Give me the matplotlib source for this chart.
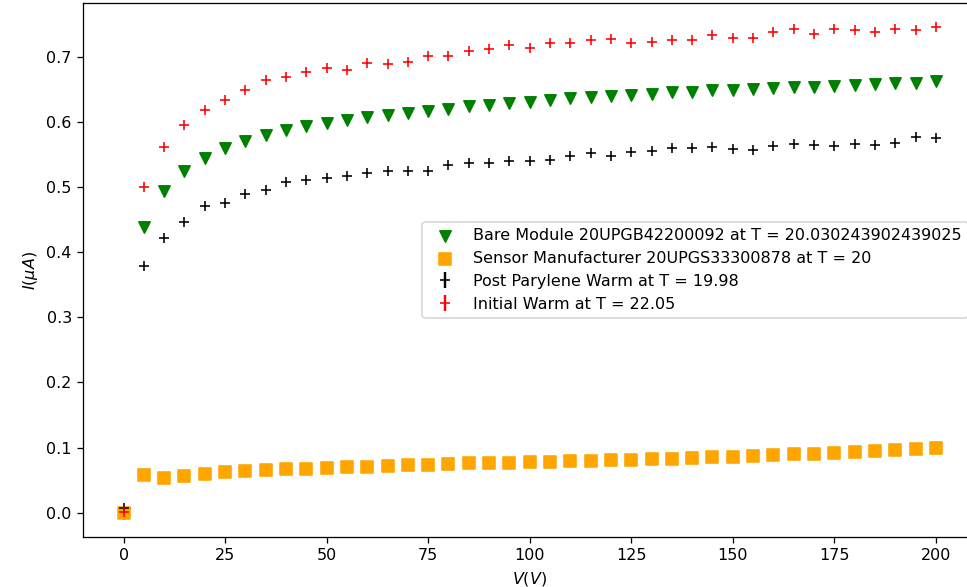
import numpy as np
import matplotlib.pyplot as plt

# Curvas IV: voltaje de polarización (V) contra corriente de fuga (uA)
voltaje = np.arange(0, 201, 5)

i_bare = [0.0, 0.439, 0.493, 0.524, 0.545, 0.560, 0.571, 0.580, 0.588, 0.594,
          0.598, 0.603, 0.607, 0.610, 0.614, 0.617, 0.620, 0.624, 0.626, 0.629,
          0.631, 0.634, 0.636, 0.638, 0.639, 0.641, 0.643, 0.645, 0.646, 0.648,
          0.649, 0.650, 0.652, 0.653, 0.654, 0.655, 0.656, 0.658, 0.659, 0.660,
          0.662]

i_sensor = [0.0, 0.0585, 0.0534, 0.0565, 0.0595, 0.0626, 0.0641, 0.0657, 0.0667, 0.0677,
            0.0687, 0.0697, 0.0708, 0.0713, 0.0728, 0.0738, 0.0749, 0.0759, 0.0764, 0.0769,
            0.0774, 0.0785, 0.0795, 0.0800, 0.0805, 0.0810, 0.0820, 0.0830, 0.0840, 0.0850,
            0.0862, 0.0872, 0.0882, 0.0897, 0.0908, 0.0918, 0.0933, 0.0944, 0.0959, 0.0974,
            0.0989]

i_post = [0.007, 0.378, 0.422, 0.446, 0.470, 0.475, 0.489, 0.495, 0.507, 0.511,
          0.513, 0.517, 0.521, 0.525, 0.525, 0.525, 0.534, 0.537, 0.537, 0.539,
          0.539, 0.5415, 0.548, 0.552, 0.548, 0.554, 0.555, 0.560, 0.5595, 0.561,
          0.558, 0.557, 0.562, 0.566, 0.565, 0.563, 0.566, 0.565, 0.568, 0.577,
          0.575]

i_inicial = [0.001, 0.500, 0.561, 0.595, 0.618, 0.634, 0.649, 0.664, 0.668, 0.676,
             0.682, 0.680, 0.690, 0.688, 0.691, 0.701, 0.701, 0.709, 0.712, 0.718,
             0.713, 0.721, 0.721, 0.725, 0.727, 0.721, 0.723, 0.725, 0.725, 0.733,
             0.729, 0.728, 0.737, 0.742, 0.735, 0.742, 0.740, 0.737, 0.743, 0.740,
             0.745]

etiquetas = ["Bare Module 20UPGB42200092 at T = 20.030243902439025",
             "Sensor Manufacturer 20UPGS33300878 at T = 20",
             "Post Parylene Warm at T = 19.98",
             "Initial Warm at T = 22.05"]

fig = plt.figure(figsize=(968 / 115, 587 / 115), dpi=115)
ax = fig.add_axes([0.0857, 0.085, 0.923, 0.91])

ax.scatter(voltaje, i_bare, marker="v", s=50, color="green", label=etiquetas[0])
ax.scatter(voltaje, i_sensor, marker="s", s=50, color="orange", label=etiquetas[1])
ax.errorbar(voltaje, i_post, yerr=np.zeros(len(i_post)), fmt="+", color="black", label=etiquetas[2])
ax.errorbar(voltaje, i_inicial, yerr=np.zeros(len(i_inicial)), fmt="+", color="red", label=etiquetas[3])

ax.set_xlabel(r"$V(V)$")
ax.set_ylabel(r"$I(\mu A)$")
ax.legend(loc="center right")

fig.savefig("out.png", dpi=115)
